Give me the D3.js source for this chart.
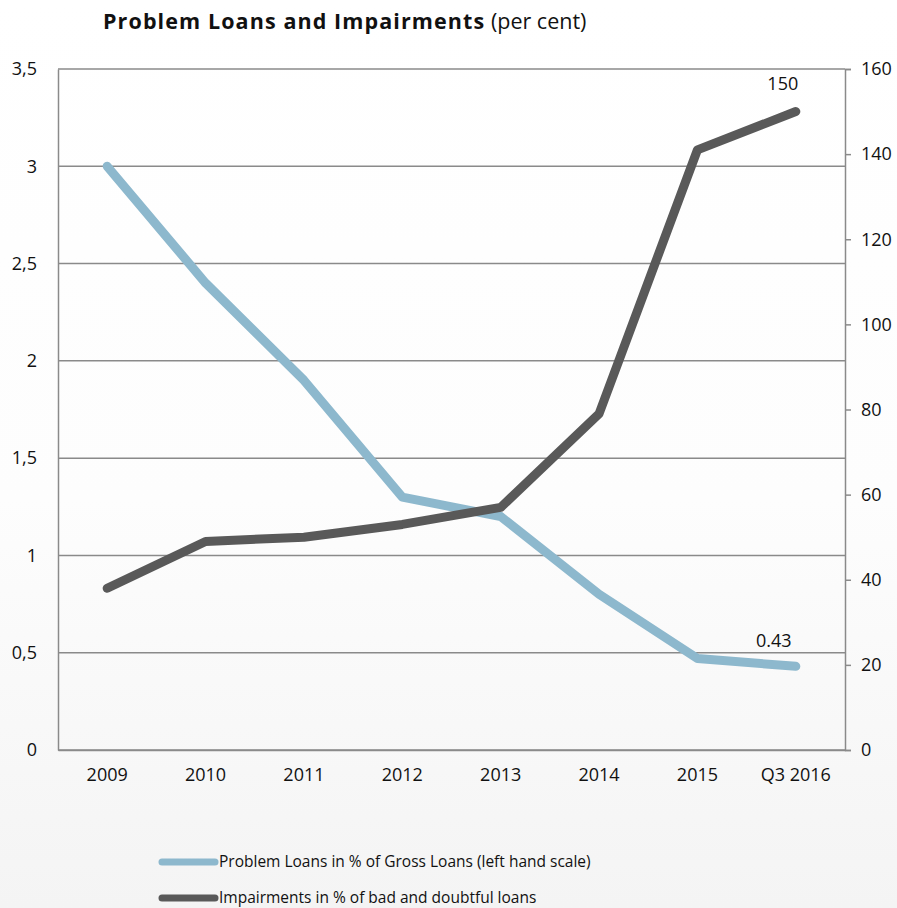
<!DOCTYPE html>
<html>
<head>
<meta charset="utf-8">
<script src="https://cdn.jsdelivr.net/npm/d3@7"></script>
<style>
  body { margin: 0; background: #fff; }
  text { font-family: "Open Sans", sans-serif; fill: #111; }
</style>
</head>
<body>
<div id="chart"></div>
<script>
const categories = ['2009', '2010', '2011', '2012', '2013', '2014', '2015', 'Q3 2016'];
const problemLoans = [3.0, 2.4, 1.9, 1.3, 1.2, 0.8, 0.47, 0.43];
const impairments = [38, 49, 50, 53, 57, 79, 141, 150];
const leftTicks = [0, 0.5, 1, 1.5, 2, 2.5, 3, 3.5];
const rightTicks = [0, 20, 40, 60, 80, 100, 120, 140, 160];
const seriesNames = [
  'Problem Loans in % of Gross Loans (left hand scale)',
  'Impairments in % of bad and doubtful loans'
];

const width = 897, height = 908;
const margin = { top: 69, right: 52, bottom: 158, left: 58 };
const innerW = width - margin.left - margin.right;
const innerH = height - margin.top - margin.bottom;

const svg = d3.select('#chart').append('svg')
  .attr('width', width)
  .attr('height', height);

// faint grey wash towards the bottom, like the original export
const grad = svg.append('defs').append('linearGradient')
  .attr('id', 'bg').attr('x1', 0).attr('y1', 0).attr('x2', 0).attr('y2', 1);
grad.append('stop').attr('offset', '0%').attr('stop-color', '#ffffff');
grad.append('stop').attr('offset', '55%').attr('stop-color', '#fdfdfd');
grad.append('stop').attr('offset', '100%').attr('stop-color', '#f4f4f4');
svg.append('rect').attr('width', width).attr('height', height).attr('fill', 'url(#bg)');

const chart = svg.append('g')
  .attr('transform', `translate(${margin.left},${margin.top})`);

const x = d3.scaleBand().domain(categories).range([0, innerW]);
const yLeft = d3.scaleLinear().domain([0, 3.5]).range([innerH, 0]);
const yRight = d3.scaleLinear().domain([0, 160]).range([innerH, 0]);
const cx = d => x(d) + x.bandwidth() / 2;

// gridlines
chart.append('g')
  .selectAll('line')
  .data(leftTicks)
  .join('line')
  .attr('x1', 0).attr('x2', innerW)
  .attr('y1', d => yLeft(d)).attr('y2', d => yLeft(d))
  .attr('stroke', '#8a8a8a').attr('stroke-width', 1.5);

// axes
const leftAxis = chart.append('g')
  .call(d3.axisLeft(yLeft).tickValues(leftTicks).tickSize(0).tickPadding(21)
    .tickFormat(d => String(d).replace('.', ',')));
const rightAxis = chart.append('g')
  .attr('transform', `translate(${innerW},0)`)
  .call(d3.axisRight(yRight).tickValues(rightTicks).tickSize(6).tickPadding(10));
const xAxis = chart.append('g')
  .attr('transform', `translate(0,${innerH})`)
  .call(d3.axisBottom(x).tickSize(0).tickPadding(18));

[leftAxis, rightAxis, xAxis].forEach(g => {
  g.select('.domain').attr('stroke', '#8a8a8a').attr('stroke-width', 1.5);
  g.selectAll('.tick line').attr('stroke', '#8a8a8a').attr('stroke-width', 1.5);
  g.selectAll('text').style('font-size', '18px').attr('fill', '#111');
});
leftAxis.selectAll('.tick line').remove();

// lines
const lineLeft = d3.line().x((d, i) => cx(categories[i])).y(d => yLeft(d));
const lineRight = d3.line().x((d, i) => cx(categories[i])).y(d => yRight(d));

chart.append('path')
  .datum(problemLoans)
  .attr('d', lineLeft)
  .attr('fill', 'none')
  .attr('stroke', '#8db8cd')
  .attr('stroke-width', 9)
  .attr('stroke-linecap', 'round')
  .attr('stroke-linejoin', 'round');

chart.append('path')
  .datum(impairments)
  .attr('d', lineRight)
  .attr('fill', 'none')
  .attr('stroke', '#595959')
  .attr('stroke-width', 9)
  .attr('stroke-linecap', 'round')
  .attr('stroke-linejoin', 'round');

// end labels
const last = categories.length - 1;
chart.append('text')
  .attr('x', cx(categories[last]) - 22)
  .attr('y', yLeft(problemLoans[last]) - 19)
  .attr('text-anchor', 'middle')
  .style('font-size', '18px')
  .text(String(problemLoans[last]));
chart.append('text')
  .attr('x', cx(categories[last]) - 13)
  .attr('y', yRight(impairments[last]) - 22)
  .attr('text-anchor', 'middle')
  .style('font-size', '18px')
  .text(String(impairments[last]));

// title
const title = svg.append('text')
  .attr('x', 103).attr('y', 29)
  .style('font-size', '21.5px');
title.append('tspan').attr('font-weight', 'bold').attr('letter-spacing', '1.1px')
  .text('Problem Loans and Impairments');
title.append('tspan').text(' (per cent)');

// legend
const legendColors = ['#8db8cd', '#595959'];
const legend = svg.append('g')
  .selectAll('g')
  .data(seriesNames)
  .join('g')
  .attr('transform', (d, i) => `translate(162,${862 + i * 36})`);
legend.append('line')
  .attr('x1', 0).attr('x2', 53)
  .attr('stroke', (d, i) => legendColors[i])
  .attr('stroke-width', 7)
  .attr('stroke-linecap', 'round');
legend.append('text')
  .attr('x', 57).attr('dy', '0.35em')
  .style('font-size', '15.5px')
  .text(d => d);
</script>
</body>
</html>
